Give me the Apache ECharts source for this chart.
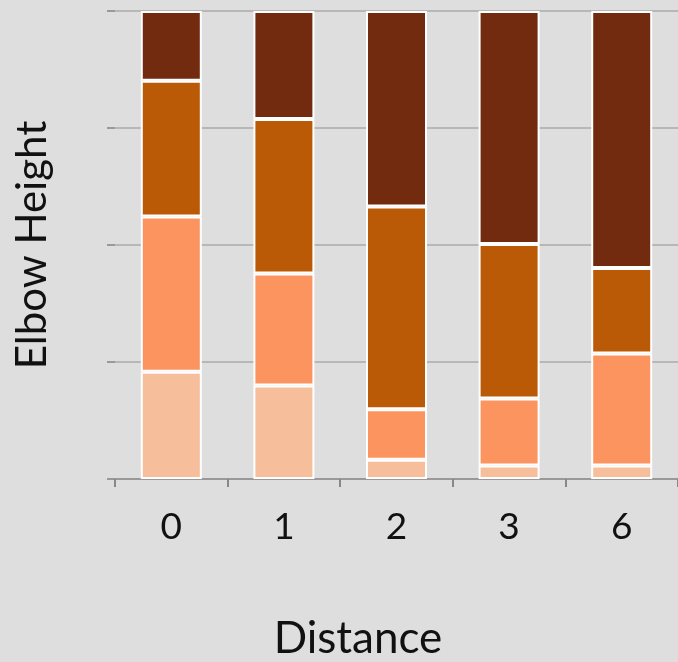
<!DOCTYPE html>
<html>
<head>
<meta charset="utf-8">
<script src="https://cdn.jsdelivr.net/npm/echarts@6/dist/echarts.min.js"></script>
<style>
  html, body { margin: 0; padding: 0; background: #dedede; }
  #main { width: 678px; height: 662px; }
</style>
</head>
<body>
<div id="main"></div>
<script>
// categories on x
var distances = ['0', '1', '2', '3', '6'];
// share of each elbow height group per distance (bottom -> top)
var group1 = [0.229, 0.200, 0.041, 0.029, 0.029];
var group2 = [0.332, 0.239, 0.108, 0.143, 0.239];
var group3 = [0.290, 0.330, 0.433, 0.330, 0.183];
var group4 = [0.149, 0.231, 0.418, 0.498, 0.549];
var yTicks = [0, 0.25, 0.5, 0.75, 1];

var colors = ['#f6be9a', '#fc9460', '#bb5a06', '#732b0f'];
var groups = [group1, group2, group3, group4];

var chartDom = document.getElementById('main');
var myChart = echarts.init(chartDom);
var font = 'Lato';

var series = [];
for (var i = 0; i < groups.length; i++) {
  series.push({
    type: 'bar',
    stack: 'total',
    barWidth: 61,
    data: groups[i],
    itemStyle: {
      color: colors[i],
      borderColor: '#ffffff',
      borderWidth: 2
    },
    emphasis: { disabled: true }
  });
}

var option = {
  backgroundColor: '#dedede',
  animation: false,
  grid: {
    left: 115,
    right: 0,
    top: 11,
    bottom: 183,
    containLabel: false,
    outerBoundsMode: 'none'
  },
  xAxis: {
    type: 'category',
    data: distances,
    name: 'Distance',
    nameLocation: 'middle',
    nameGap: 138,
    nameTextStyle: {
      fontFamily: font,
      fontSize: 44,
      color: '#111',
      padding: [0, 77, 0, 0]
    },
    axisLine: { show: true, lineStyle: { color: '#999', width: 2 } },
    axisTick: { show: true, length: 8, lineStyle: { color: '#888', width: 2 } },
    axisLabel: {
      fontFamily: font,
      fontSize: 37,
      color: '#111',
      margin: 30
    }
  },
  yAxis: {
    type: 'value',
    min: yTicks[0],
    max: yTicks[yTicks.length - 1],
    interval: 0.25,
    name: 'Elbow Height',
    nameLocation: 'middle',
    nameGap: 62,
    nameTextStyle: {
      fontFamily: font,
      fontSize: 42,
      color: '#111'
    },
    axisLine: { show: false },
    axisTick: { show: true, length: 8, lineStyle: { color: '#999', width: 2 } },
    axisLabel: { show: false },
    splitLine: { show: true, lineStyle: { color: '#aaaaaa', width: 1.5 } }
  },
  series: series
};

option && myChart.setOption(option);
</script>
</body>
</html>
